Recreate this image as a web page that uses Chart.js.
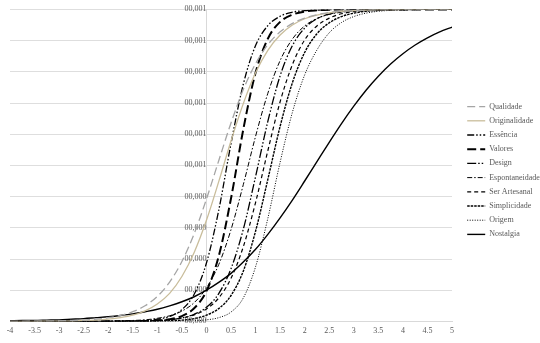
<!DOCTYPE html>
<html>
<head>
<meta charset="utf-8">
<script src="https://cdn.jsdelivr.net/npm/chart.js@4"></script>
<style>
  body { margin: 0; background: #fff; }
  #wrap { width: 540px; height: 343px; position: relative; }
</style>
</head>
<body>
<div id="wrap"><canvas id="myChart"></canvas></div>
<script>
// theta values on the x axis
let xValues = [-4, -3.75, -3.5, -3.25, -3, -2.75, -2.5, -2.25, -2, -1.75, -1.5, -1.25, -1, -0.75, -0.5, -0.25,
  0, 0.25, 0.5, 0.75, 1, 1.25, 1.5, 1.75, 2, 2.25, 2.5, 2.75, 3, 3.25, 3.5, 3.75, 4, 4.25, 4.5, 4.75, 5];

let qualidade = [0, 0, 0.001, 0.001, 0.002, 0.003, 0.004, 0.007, 0.012, 0.019, 0.031, 0.050, 0.080, 0.126, 0.192, 0.281,
  0.392, 0.515, 0.636, 0.743, 0.826, 0.887, 0.928, 0.955, 0.972, 0.983, 0.990, 0.994, 0.996, 0.998, 0.999, 0.999, 1, 1, 1, 1, 1];
let originalidade = [0, 0, 0, 0.001, 0.001, 0.001, 0.003, 0.004, 0.007, 0.012, 0.020, 0.034, 0.056, 0.090, 0.144, 0.221,
  0.324, 0.448, 0.578, 0.698, 0.797, 0.869, 0.918, 0.950, 0.970, 0.982, 0.989, 0.994, 0.996, 0.998, 0.999, 0.999, 1, 1, 1, 1, 1];
let essencia = [0, 0, 0, 0, 0, 0, 0, 0, 0, 0.001, 0.001, 0.003, 0.007, 0.016, 0.038, 0.087,
  0.187, 0.356, 0.570, 0.760, 0.884, 0.948, 0.978, 0.991, 0.996, 0.998, 0.999, 1, 1, 1, 1, 1, 1, 1, 1, 1, 1];
let valores = [0, 0, 0, 0, 0, 0, 0, 0, 0, 0, 0, 0.001, 0.003, 0.007, 0.017, 0.042,
  0.097, 0.209, 0.394, 0.615, 0.797, 0.906, 0.960, 0.983, 0.993, 0.997, 0.999, 1, 1, 1, 1, 1, 1, 1, 1, 1, 1];
let design = [0, 0, 0, 0, 0, 0, 0, 0, 0, 0, 0.001, 0.001, 0.003, 0.005, 0.011, 0.023,
  0.045, 0.089, 0.169, 0.295, 0.464, 0.641, 0.787, 0.884, 0.940, 0.970, 0.985, 0.993, 0.997, 0.998, 0.999, 1, 1, 1, 1, 1, 1];
let espontaneidade = [0, 0, 0, 0, 0, 0, 0, 0, 0.001, 0.002, 0.003, 0.005, 0.010, 0.018, 0.033, 0.060,
  0.107, 0.182, 0.294, 0.438, 0.593, 0.731, 0.836, 0.905, 0.947, 0.971, 0.984, 0.991, 0.995, 0.998, 0.999, 0.999, 1, 1, 1, 1, 1];
let serArtesanal = [0, 0, 0, 0, 0, 0, 0, 0, 0, 0, 0.001, 0.001, 0.003, 0.005, 0.011, 0.021,
  0.040, 0.075, 0.138, 0.239, 0.381, 0.547, 0.704, 0.823, 0.902, 0.947, 0.972, 0.986, 0.993, 0.996, 0.998, 0.999, 1, 1, 1, 1, 1];
let simplicidade = [0, 0, 0, 0, 0, 0, 0, 0, 0, 0, 0, 0, 0.001, 0.002, 0.004, 0.009,
  0.020, 0.041, 0.083, 0.161, 0.289, 0.455, 0.625, 0.765, 0.862, 0.922, 0.957, 0.977, 0.988, 0.994, 0.997, 0.999, 0.999, 1, 1, 1, 1];
let origem = [0, 0, 0, 0, 0, 0, 0, 0, 0, 0, 0, 0, 0, 0, 0.001, 0.002,
  0.005, 0.012, 0.030, 0.075, 0.175, 0.330, 0.510, 0.670, 0.790, 0.870, 0.925, 0.958, 0.977, 0.988, 0.994, 0.997, 0.999, 0.999, 1, 1, 1];
let nostalgia = [0.002, 0.003, 0.003, 0.004, 0.005, 0.007, 0.009, 0.012, 0.015, 0.019, 0.024, 0.031, 0.039, 0.050, 0.063, 0.079,
  0.100, 0.125, 0.154, 0.190, 0.231, 0.279, 0.332, 0.389, 0.450, 0.512, 0.574, 0.634, 0.690, 0.741, 0.786, 0.825, 0.858, 0.886, 0.909, 0.928, 0.943];

let xTicksMin = -4;
let xTicksMax = 5;

const serif = "'Liberation Serif', 'DejaVu Serif', serif";
const textGrey = '#595959';

function line(label, values, color, width, dash) {
  return {
    label: label,
    data: values.map((v, i) => ({ x: xValues[i], y: v })),
    borderColor: color,
    backgroundColor: color,
    borderWidth: width,
    borderDash: dash,
    pointRadius: 0,
    fill: false,
    cubicInterpolationMode: 'monotone'
  };
}

const data = {
  datasets: [
    line('Qualidade', qualidade, '#a5a5a5', 1.3, [8, 4]),
    line('Originalidade', originalidade, '#c9bd9b', 1.3, []),
    line('Essência', essencia, '#000000', 1.3, [7, 2, 1.5, 2, 1.5, 2]),
    line('Valores', valores, '#000000', 2, [9, 4]),
    line('Design', design, '#000000', 1.3, [9, 2, 1.5, 2, 1.5, 2]),
    line('Espontaneidade', espontaneidade, '#000000', 1, [5, 2, 1.5, 2]),
    line('Ser Artesanal', serArtesanal, '#000000', 1.2, [4, 3]),
    line('Simplicidade', simplicidade, '#000000', 1.4, [2.5, 1]),
    line('Origem', origem, '#000000', 1, [1, 1.5]),
    line('Nostalgia', nostalgia, '#000000', 1.4, [])
  ]
};

// legend samples should show the dash pattern of each line
function legendLabels(chart) {
  const items = Chart.defaults.plugins.legend.labels.generateLabels(chart);
  items.forEach((item) => {
    const ds = chart.data.datasets[item.datasetIndex];
    item.lineDash = ds.borderDash;
    item.lineWidth = ds.borderWidth;
    item.strokeStyle = ds.borderColor;
  });
  return items;
}

const config = {
  type: 'line',
  data: data,
  options: {
    responsive: true,
    maintainAspectRatio: false,
    animation: false,
    layout: { padding: { top: 0, left: 10, right: 0, bottom: 2 } },
    plugins: {
      tooltip: { enabled: false },
      legend: {
        position: 'right',
        maxWidth: 79,
        labels: {
          usePointStyle: true,
          pointStyle: 'line',
          pointStyleWidth: 18,
          boxHeight: 8,
          padding: 6.2,
          color: textGrey,
          font: { family: serif, size: 8 },
          generateLabels: legendLabels
        }
      }
    },
    scales: {
      x: {
        type: 'linear',
        min: xTicksMin,
        max: xTicksMax,
        grid: { display: false, drawTicks: false },
        border: { display: true, color: '#d9d9d9' },
        ticks: {
          stepSize: 0.5,
          autoSkip: false,
          maxRotation: 0,
          padding: 5,
          color: textGrey,
          font: { family: serif, size: 8 },
          callback: (v) => String(v)
        }
      },
      y: {
        min: 0,
        max: 1,
        position: { x: 0 },
        grid: { color: '#dedede', drawTicks: false },
        border: { display: true, color: '#d9d9d9' },
        ticks: {
          stepSize: 0.1,
          padding: 7,
          color: textGrey,
          font: { family: serif, size: 8, lineHeight: 0.6 },
          callback: (v) => '00,00' + Math.round(v)
        }
      },
      gap: {
        type: 'linear',
        position: 'right',
        display: true,
        grid: { display: false },
        border: { display: false },
        ticks: { display: false },
        afterFit: (scale) => { scale.width = 9; }
      }
    }
  }
};

const myChart = new Chart(document.getElementById('myChart'), config);
</script>
</body>
</html>
